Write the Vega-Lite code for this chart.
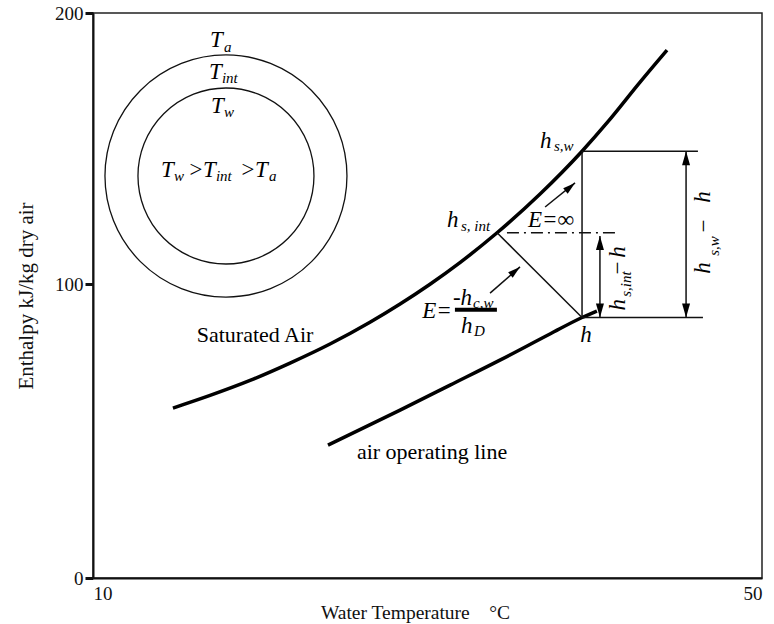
{
  "$schema": "https://vega.github.io/schema/vega-lite/v6.json",
  "autosize": {"type": "none"},
  "width": 669,
  "height": 565,
  "padding": {"left": 93, "top": 13, "right": 12, "bottom": 46},
  "background": "white",
  "config": {
    "view": {"stroke": "#222", "strokeWidth": 1.5},
    "axis": {"grid": false, "domainColor": "#111", "domainWidth": 2, "labelFont": "Liberation Serif", "titleFont": "Liberation Serif", "labelColor": "#111", "titleColor": "#111", "titleFontWeight": "normal", "labelFontSize": 19, "titleFontSize": 19.5}
  },
  "datasets": {
    "curves": [
      {"series": "Saturated Air", "x": 14.78, "y": 57.8},
      {"series": "Saturated Air", "x": 17.0, "y": 62.1},
      {"series": "Saturated Air", "x": 19.39, "y": 67.2},
      {"series": "Saturated Air", "x": 21.78, "y": 73.1},
      {"series": "Saturated Air", "x": 24.17, "y": 79.6},
      {"series": "Saturated Air", "x": 26.56, "y": 87.0},
      {"series": "Saturated Air", "x": 28.36, "y": 93.2},
      {"series": "Saturated Air", "x": 30.15, "y": 99.93},
      {"series": "Saturated Air", "x": 31.94, "y": 107.9},
      {"series": "Saturated Air", "x": 34.16, "y": 118.9},
      {"series": "Saturated Air", "x": 36.73, "y": 133.2},
      {"series": "Saturated Air", "x": 39.24, "y": 149.0},
      {"series": "Saturated Air", "x": 40.79, "y": 159.9},
      {"series": "Saturated Air", "x": 42.71, "y": 174.5},
      {"series": "Saturated Air", "x": 44.32, "y": 186.3},
      {"series": "air operating line", "x": 24.05, "y": 45.2},
      {"series": "air operating line", "x": 28.36, "y": 57.1},
      {"series": "air operating line", "x": 31.35, "y": 65.6},
      {"series": "air operating line", "x": 34.33, "y": 74.1},
      {"series": "air operating line", "x": 37.32, "y": 83.0},
      {"series": "air operating line", "x": 39.24, "y": 88.6},
      {"series": "air operating line", "x": 40.13, "y": 90.8}
    ],
    "segments": [
      {"id": "tie line", "x": 34.16, "y": 118.9, "x2": 39.24, "y2": 88.6},
      {"id": "vertical", "x": 39.24, "y": 88.6, "x2": 39.24, "y2": 149.0},
      {"id": "top", "x": 39.24, "y": 149.0, "x2": 46.17, "y2": 149.0},
      {"id": "bottom", "x": 39.24, "y": 88.6, "x2": 46.47, "y2": 88.6},
      {"id": "small arrow", "x": 40.31, "y": 117.7, "x2": 40.31, "y2": 88.6},
      {"id": "big arrow", "x": 45.46, "y": 149.0, "x2": 45.46, "y2": 88.6},
      {"id": "E inf arrow", "x": 37.03, "y": 128.4, "x2": 38.82, "y2": 137.3},
      {"id": "E hc arrow", "x": 33.74, "y": 96.9, "x2": 35.53, "y2": 106.3}
    ],
    "dashdot": [{"x": 34.75, "y": 118.9, "x2": 41.21, "y2": 118.9}],
    "fraction": [{"x": 31.64, "y": 91.2, "x2": 34.15, "y2": 91.2}],
    "heads": [
      {"dir": "up", "x": 40.31, "y": 117.7},
      {"dir": "down", "x": 40.31, "y": 88.6},
      {"dir": "up", "x": 45.46, "y": 149.0},
      {"dir": "down", "x": 45.46, "y": 88.6},
      {"dir": "diag", "x": 38.82, "y": 137.3},
      {"dir": "diag", "x": 35.53, "y": 106.3}
    ],
    "rings": [
      {"ring": "outer", "x": 17.95, "y": 139.85},
      {"ring": "inner", "x": 17.95, "y": 139.85}
    ],
    "labels": [
      {"role": "math", "text": "h", "x": 36.73, "y": 152.8},
      {"role": "sub", "text": "s,w", "x": 37.56, "y": 150.9},
      {"role": "math", "text": "h", "x": 31.17, "y": 123.6},
      {"role": "sub", "text": "s, int", "x": 32.0, "y": 121.4},
      {"role": "mathc", "text": "E=∞", "x": 37.38, "y": 123.6},
      {"role": "mathc", "text": "E=", "x": 30.57, "y": 90.8},
      {"role": "math", "text": "-h", "x": 31.52, "y": 95.2},
      {"role": "sub", "text": "c,w", "x": 32.72, "y": 93.5},
      {"role": "math", "text": "h", "x": 32.0, "y": 85.7},
      {"role": "sub", "text": "D", "x": 32.78, "y": 84.0},
      {"role": "mathc", "text": "h", "x": 39.48, "y": 82.7},
      {"role": "plain", "text": "Saturated Air", "x": 19.69, "y": 82.7},
      {"role": "plain", "text": "air operating line", "x": 30.27, "y": 42.9},
      {"role": "math", "text": "T", "x": 17.0, "y": 190.0},
      {"role": "sub", "text": "a", "x": 17.83, "y": 187.5},
      {"role": "math", "text": "T", "x": 16.94, "y": 178.2},
      {"role": "sub", "text": "int", "x": 17.71, "y": 176.0},
      {"role": "math", "text": "T", "x": 17.06, "y": 165.7},
      {"role": "sub", "text": "w", "x": 17.83, "y": 163.5},
      {"role": "math", "text": "T", "x": 14.07, "y": 142.1},
      {"role": "sub", "text": "w", "x": 14.84, "y": 139.9},
      {"role": "math", "text": ">", "x": 15.68, "y": 142.1},
      {"role": "math", "text": "T", "x": 16.58, "y": 142.1},
      {"role": "sub", "text": "int", "x": 17.35, "y": 139.9},
      {"role": "math", "text": ">", "x": 18.79, "y": 142.1},
      {"role": "math", "text": "T", "x": 19.69, "y": 142.1},
      {"role": "sub", "text": "a", "x": 20.52, "y": 139.9},
      {"role": "vmath", "text": "h", "x": 41.39, "y": 92.9},
      {"role": "vsub", "text": "s,int", "x": 41.87, "y": 100.0},
      {"role": "vmath", "text": "−", "x": 41.39, "y": 105.9},
      {"role": "vmath", "text": "h", "x": 41.39, "y": 111.8},
      {"role": "vmath", "text": "h", "x": 46.47, "y": 105.9},
      {"role": "vsub", "text": "s,w", "x": 47.13, "y": 114.0},
      {"role": "vmath", "text": "−", "x": 46.53, "y": 121.4},
      {"role": "vmath", "text": "h", "x": 46.47, "y": 132.1}
    ]
  },
  "encoding": {
    "x": {"field": "x", "type": "quantitative", "scale": {"domain": [10, 50], "nice": false, "zero": false},
      "axis": {"values": [10, 50], "ticks": false, "labelPadding": 6, "title": "Water Temperature\u00a0\u00a0\u00a0 °C", "titleX": 322, "titleY": 40, "titleBaseline": "alphabetic"}},
    "y": {"field": "y", "type": "quantitative", "scale": {"domain": [0, 100, 200], "range": [565, 271, 0], "nice": false, "zero": false},
      "axis": {"values": [0, 100, 200], "tickSize": 8, "tickWidth": 3, "tickColor": "#111", "labelPadding": 2, "title": "Enthalpy kJ/kg dry air", "titleFontSize": 21, "titleX": -67, "titleBaseline": "middle"}}
  },
  "layer": [
    {"data": {"name": "rings"}, "transform": [{"filter": "datum.ring === 'outer'"}],
      "mark": {"type": "point", "shape": "circle", "filled": false, "stroke": "#111", "strokeWidth": 1.3, "size": 58564, "opacity": 1}},
    {"data": {"name": "rings"}, "transform": [{"filter": "datum.ring === 'inner'"}],
      "mark": {"type": "point", "shape": "circle", "filled": false, "stroke": "#111", "strokeWidth": 1.3, "size": 30976, "opacity": 1}},
    {"data": {"name": "curves"},
      "mark": {"type": "line", "color": "#000", "strokeWidth": 3.5, "interpolate": "monotone"},
      "encoding": {"detail": {"field": "series"}}},
    {"data": {"name": "segments"},
      "mark": {"type": "rule", "color": "#111", "strokeWidth": 1.5},
      "encoding": {"x2": {"field": "x2"}, "y2": {"field": "y2"}}},
    {"data": {"name": "dashdot"},
      "mark": {"type": "rule", "color": "#111", "strokeWidth": 1.5, "strokeDash": [12, 5, 2, 5]},
      "encoding": {"x2": {"field": "x2"}, "y2": {"field": "y2"}}},
    {"data": {"name": "fraction"},
      "mark": {"type": "rule", "color": "#000", "strokeWidth": 4},
      "encoding": {"x2": {"field": "x2"}, "y2": {"field": "y2"}}},
    {"data": {"name": "heads"}, "transform": [{"filter": "datum.dir === 'up'"}],
      "mark": {"type": "point", "shape": "M0,0L-0.8,2.8L0.8,2.8Z", "filled": true, "color": "#000", "size": 100, "opacity": 1}},
    {"data": {"name": "heads"}, "transform": [{"filter": "datum.dir === 'down'"}],
      "mark": {"type": "point", "shape": "M0,0L-0.8,-2.8L0.8,-2.8Z", "filled": true, "color": "#000", "size": 100, "opacity": 1}},
    {"data": {"name": "heads"}, "transform": [{"filter": "datum.dir === 'diag'"}],
      "mark": {"type": "point", "shape": "M0,0L-0.7,2.5L0.7,2.5Z", "filled": true, "color": "#000", "size": 100, "angle": 50, "opacity": 1}},
    {"data": {"name": "labels"}, "transform": [{"filter": "datum.role === 'math'"}],
      "mark": {"type": "text", "font": "Liberation Serif", "fontStyle": "italic", "fontSize": 23, "color": "#000", "align": "left", "baseline": "middle"},
      "encoding": {"text": {"field": "text"}}},
    {"data": {"name": "labels"}, "transform": [{"filter": "datum.role === 'mathc'"}],
      "mark": {"type": "text", "font": "Liberation Serif", "fontStyle": "italic", "fontSize": 23, "color": "#000", "align": "center", "baseline": "middle"},
      "encoding": {"text": {"field": "text"}}},
    {"data": {"name": "labels"}, "transform": [{"filter": "datum.role === 'sub'"}],
      "mark": {"type": "text", "font": "Liberation Serif", "fontStyle": "italic", "fontSize": 15, "color": "#000", "align": "left", "baseline": "middle"},
      "encoding": {"text": {"field": "text"}}},
    {"data": {"name": "labels"}, "transform": [{"filter": "datum.role === 'plain'"}],
      "mark": {"type": "text", "font": "Liberation Serif", "fontSize": 22, "color": "#000", "align": "center", "baseline": "middle"},
      "encoding": {"text": {"field": "text"}}},
    {"data": {"name": "labels"}, "transform": [{"filter": "datum.role === 'vmath'"}],
      "mark": {"type": "text", "font": "Liberation Serif", "fontStyle": "italic", "fontSize": 23, "color": "#000", "align": "center", "baseline": "middle", "angle": 270},
      "encoding": {"text": {"field": "text"}}},
    {"data": {"name": "labels"}, "transform": [{"filter": "datum.role === 'vsub'"}],
      "mark": {"type": "text", "font": "Liberation Serif", "fontStyle": "italic", "fontSize": 15, "color": "#000", "align": "center", "baseline": "middle", "angle": 270},
      "encoding": {"text": {"field": "text"}}}
  ]
}
